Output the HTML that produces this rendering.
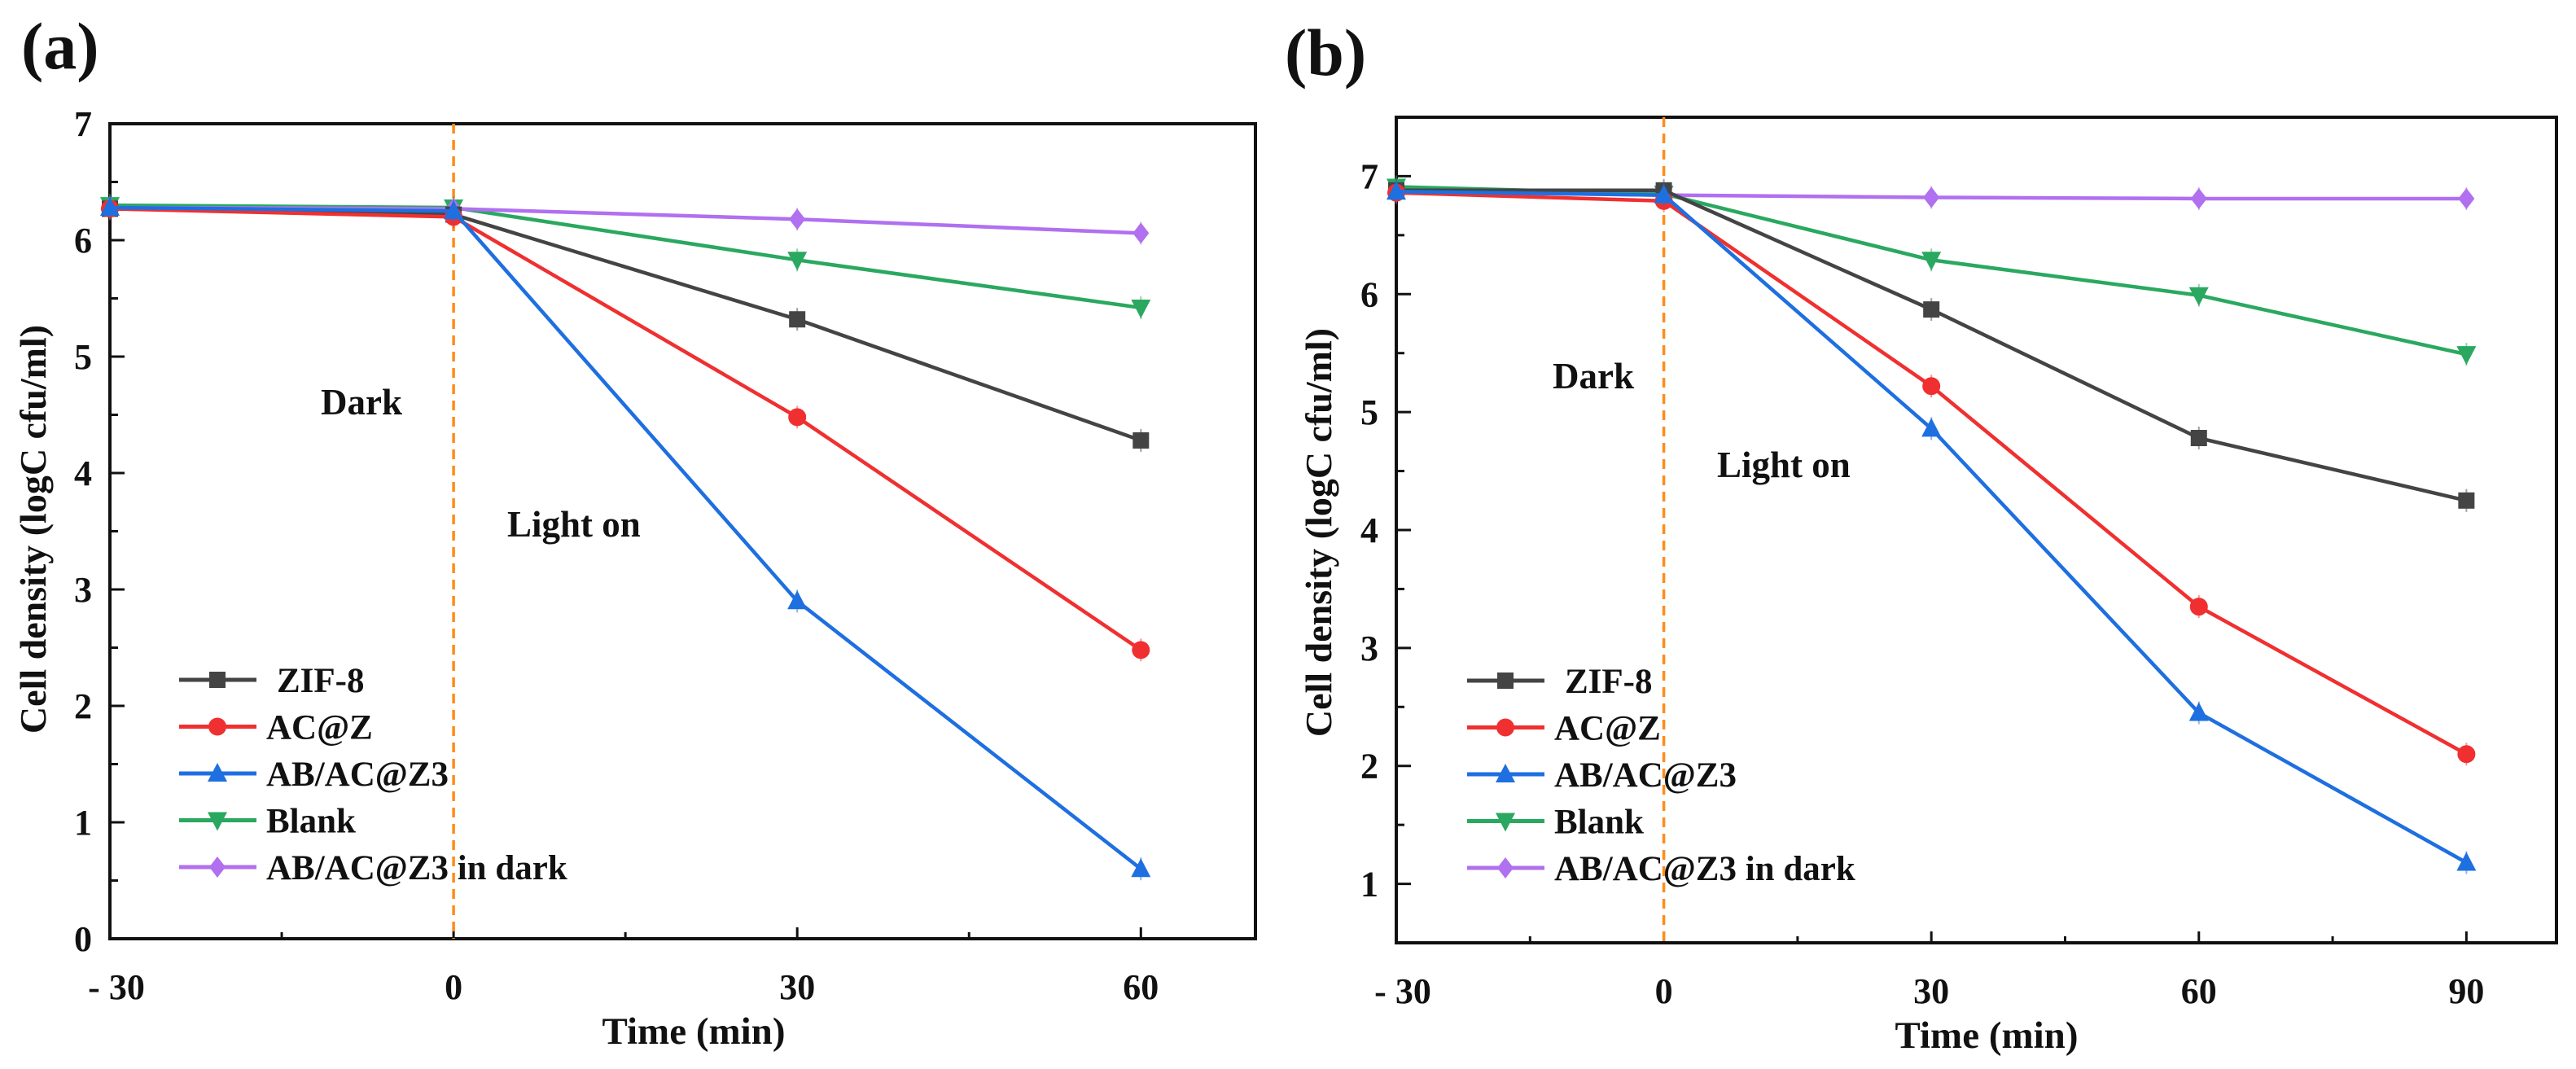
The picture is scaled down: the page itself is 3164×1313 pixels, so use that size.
<!DOCTYPE html>
<html><head><meta charset="utf-8"><style>
html,body{margin:0;padding:0;background:#fff;overflow:hidden;}
svg text{font-family:"Liberation Serif",serif;font-weight:bold;fill:#111;}
</style></head><body>
<svg id="fig" width="3164" height="1308" viewBox="0 0 3164 1308" xmlns="http://www.w3.org/2000/svg"></svg>
<script>
const seriesNames = ["ZIF-8","AC@Z","AB/AC@Z3","Blank","AB/AC@Z3 in dark"];
const colors = ["#444444","#f03030","#1e6fe0","#2aa860","#b070f0"];
const markers = ["square","circle","triangle","tridown","diamond"];
const timesA = [-30,0,30,60];
const zifA = [6.27,6.22,5.32,4.28];
const aczA = [6.27,6.20,4.48,2.48];
const abA = [6.28,6.25,2.90,0.60];
const blankA = [6.30,6.28,5.83,5.42];
const darkA = [6.28,6.27,6.18,6.06];
const timesB = [-30,0,30,60,90];
const zifB = [6.88,6.88,5.87,4.78,4.25];
const aczB = [6.86,6.79,5.22,3.35,2.10];
const abB = [6.87,6.84,4.86,2.45,1.18];
const blankB = [6.91,6.85,6.29,5.99,5.49];
const darkB = [6.87,6.84,6.82,6.81,6.81];
const xTicksA = [-30,0,30,60];
const yTicksA = [0,1,2,3,4,5,6,7];
const xTicksB = [-30,0,30,60,90];
const yTicksB = [1,2,3,4,5,6,7];

const NS="http://www.w3.org/2000/svg";
const svg=document.getElementById('fig');
function mk(tag,attrs,parent){const e=document.createElementNS(NS,tag);for(const k in attrs)e.setAttribute(k,attrs[k]);(parent||svg).appendChild(e);return e;}
function marker(g,type,x,y,c,s){
  let e;
  if(type==="square")e=mk('rect',{x:x-s,y:y-s,width:2*s,height:2*s,fill:c},g);
  else if(type==="circle")e=mk('circle',{cx:x,cy:y,r:s*1.1,fill:c},g);
  else if(type==="triangle")e=mk('polygon',{points:`${x},${y-s*1.3} ${x-s*1.2},${y+s} ${x+s*1.2},${y+s}`,fill:c},g);
  else if(type==="tridown")e=mk('polygon',{points:`${x},${y+s*1.3} ${x-s*1.2},${y-s} ${x+s*1.2},${y-s}`,fill:c},g);
  else e=mk('polygon',{points:`${x},${y-s*1.3} ${x+s},${y} ${x},${y+s*1.3} ${x-s},${y}`,fill:c},g);
  
  
}
function panel(p){
  const g=mk('g',{});
  
  
  const X=v=>p.L+(v-p.xmin)/(p.xmax-p.xmin)*(p.R-p.L);
  const Y=v=>p.B-(v-p.ymin)/(p.ymax-p.ymin)*(p.B-p.T);
  const lab=mk('text',{x:p.labX,y:p.labY,'font-size':82},g);lab.textContent=p.label;
  
  const fr=mk('rect',{x:p.L,y:p.T,width:p.R-p.L,height:p.B-p.T,fill:'none',stroke:'#111','stroke-width':4},g);
  
  p.xt.forEach(v=>{
    mk('line',{x1:X(v),x2:X(v),y1:p.B,y2:p.B-14,stroke:'#111','stroke-width':3},g);
    const m=v+15; if(m<p.xmax) mk('line',{x1:X(m),x2:X(m),y1:p.B,y2:p.B-8,stroke:'#111','stroke-width':3},g);
    const t=mk('text',{x:X(v)+(v<0?8:0),y:p.B+74,'font-size':44,'text-anchor':'middle'},g);
    t.textContent=v<0?'- '+(-v):String(v);
    
  });
  p.yt.forEach(v=>{
    mk('line',{x1:p.L,x2:p.L+18,y1:Y(v),y2:Y(v),stroke:'#111','stroke-width':3},g);
    const m=v+0.5; if(m<p.ymax) mk('line',{x1:p.L,x2:p.L+10,y1:Y(m),y2:Y(m),stroke:'#111','stroke-width':3},g);
    const t=mk('text',{x:p.L-22,y:Y(v)+15,'font-size':44,'text-anchor':'end'},g);
    t.textContent=String(v);
    
  });
  const xt=mk('text',{x:p.xtX,y:p.B+129,'font-size':47,'text-anchor':'middle'},g);
  xt.textContent='Time (min)';
  const yc=p.ytY, yx=p.ytX;
  const yt=mk('text',{x:yx,y:yc+16,'font-size':46,'text-anchor':'middle',transform:`rotate(-90 ${yx} ${yc})`},g);
  yt.textContent='Cell density (logC cfu/ml)';
  const dl=mk('line',{x1:X(0),x2:X(0),y1:p.T,y2:p.B,stroke:'#ff8c1a','stroke-width':3.5,'stroke-dasharray':'12 8'},g);
  
  const d=mk('text',{x:p.darkX,y:p.darkY,'font-size':45},g);d.textContent='Dark';
  
  const l=mk('text',{x:p.lightX,y:p.lightY,'font-size':45},g);l.textContent='Light on';
  
  const order=[3,4,0,1,2];
  order.forEach(si=>{
    const vals=p.data[si];
    const sg=mk('g',{},g);
    
    
    const pts=p.times.map((t,i)=>X(t)+','+Y(vals[i])).join(' ');
    const pl=mk('polyline',{points:pts,fill:'none',stroke:colors[si],'stroke-width':4.5,'stroke-linejoin':'round'},sg);
    
    p.times.forEach((t,i)=>{
      const x=X(t),y=Y(vals[i]);
      mk('line',{x1:x,x2:x,y1:y-14,y2:y+14,stroke:colors[si],'stroke-width':2,opacity:0.5},sg);
      marker(sg,markers[si],x,y,colors[si],10);
    });
  });
  seriesNames.forEach((n,i)=>{
    const lg=mk('g',{},g);
    
    
    const y=p.legY+i*57.5;
    mk('line',{x1:p.legX,x2:p.legX+95,y1:y,y2:y,stroke:colors[i],'stroke-width':5},lg);
    marker(lg,markers[i],p.legX+47,y,colors[i],10);
    const t=mk('text',{x:p.legX+(i===0?120:107),y:y+15,'font-size':43},lg);t.textContent=n;
  });
}
panel({id:'panel-a',label:'(a)',labX:26,labY:84,L:135,R:1542,T:152,B:1153,xmin:-30,xmax:70,ymin:0,ymax:7,
  xt:xTicksA,yt:yTicksA,times:timesA,data:[zifA,aczA,abA,blankA,darkA],xtX:852,ytX:40,ytY:650,
  darkX:394,darkY:509,lightX:623,lightY:659,legX:220,legY:835});
panel({id:'panel-b',label:'(b)',labX:1578,labY:92,L:1715,R:3140,T:144,B:1158,xmin:-30,xmax:100.1,ymin:0.5,ymax:7.5,
  xt:xTicksB,yt:yTicksB,times:timesB,data:[zifB,aczB,abB,blankB,darkB],xtX:2440,ytX:1619,ytY:654,
  darkX:1907,darkY:477,lightX:2109,lightY:586,legX:1802,legY:836});
</script>
</body></html>
